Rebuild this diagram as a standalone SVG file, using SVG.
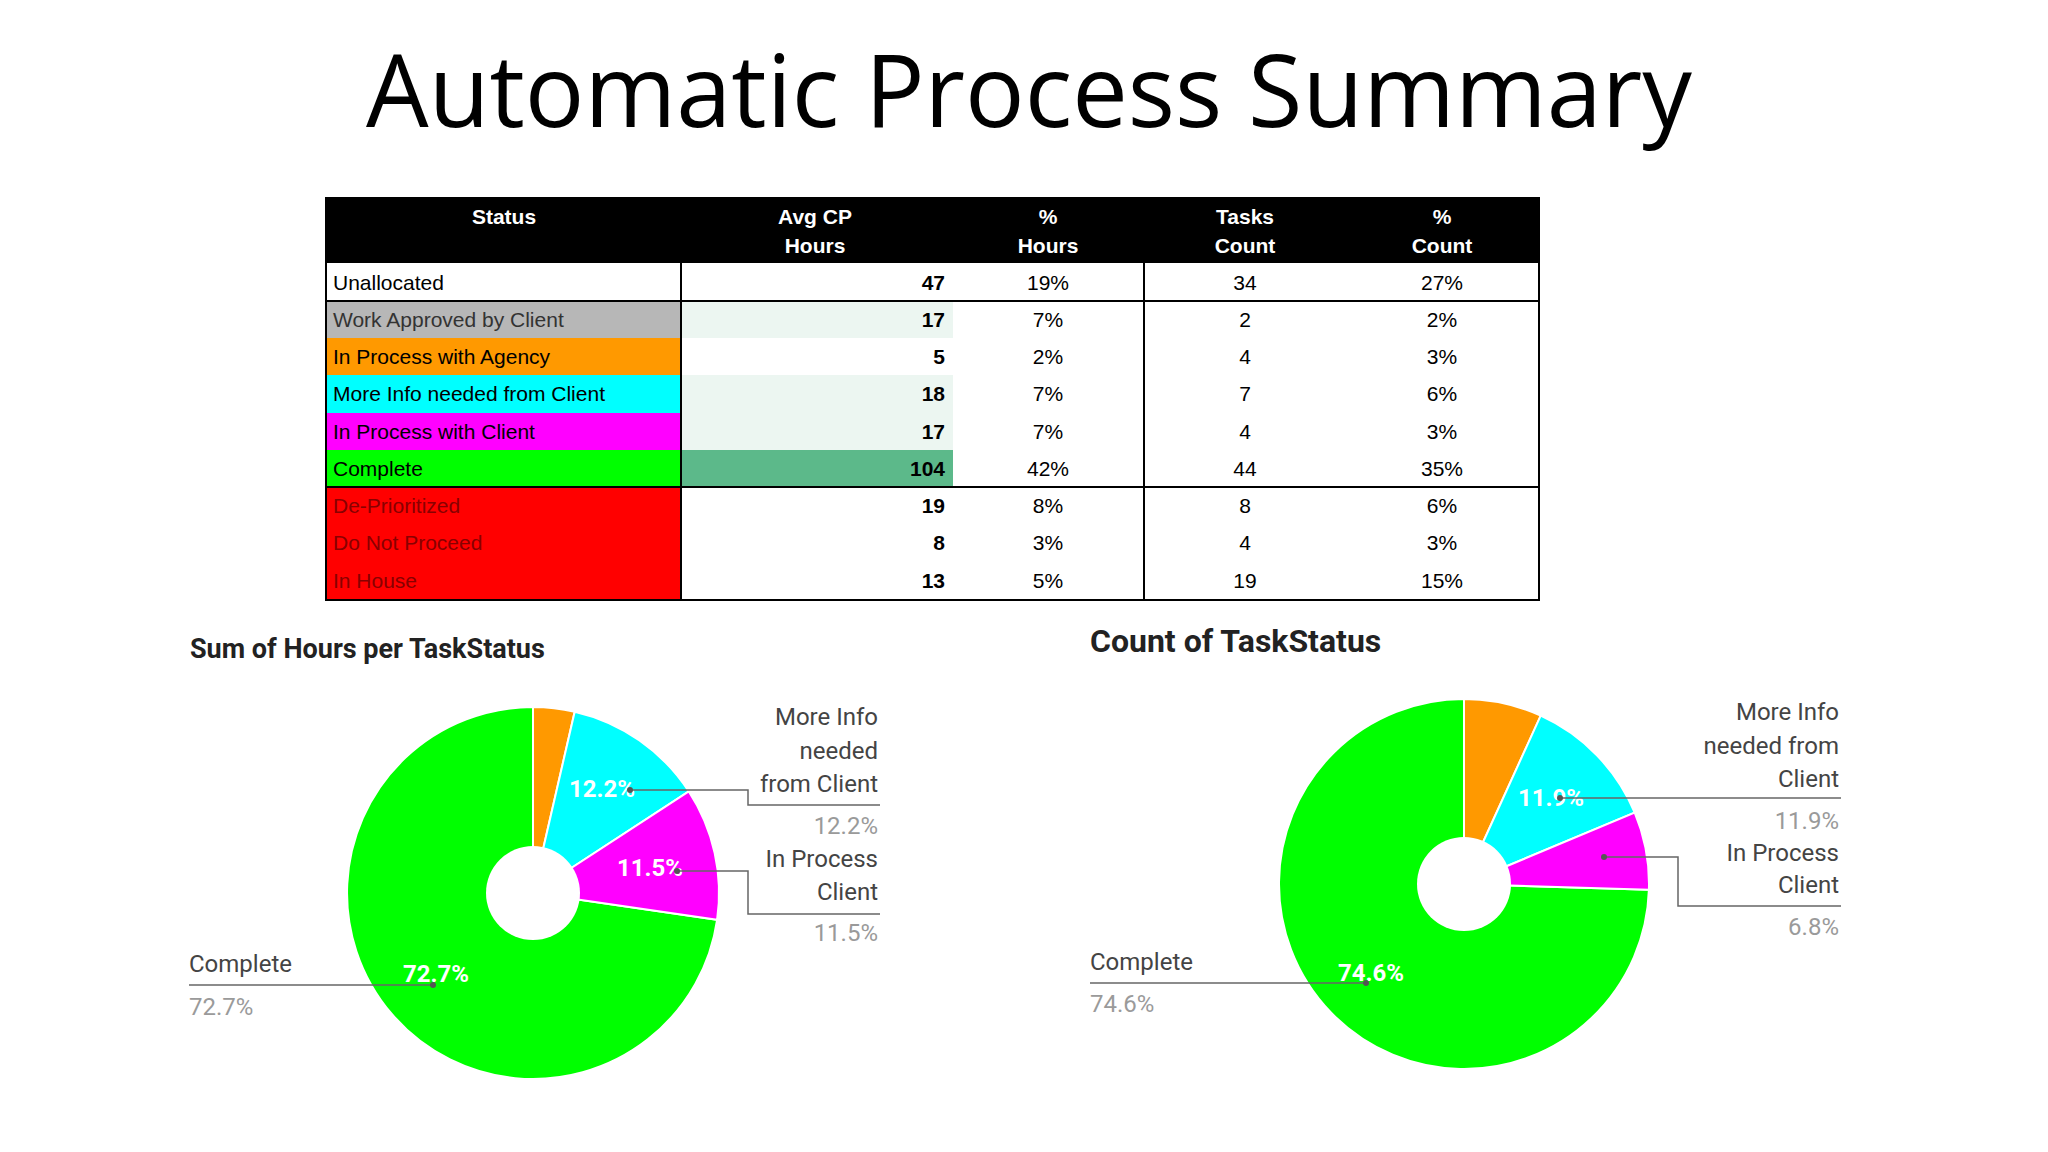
<svg xmlns="http://www.w3.org/2000/svg" width="2048" height="1152" viewBox="0 0 2048 1152">
<style>
.t{font-family:"Liberation Sans",Arial,sans-serif;font-size:21px;fill:#000}
.h{font-family:"Liberation Sans",Arial,sans-serif;font-size:21px;font-weight:bold;fill:#fff;text-anchor:middle}
.r{text-anchor:end}.c{text-anchor:middle}
.lb{font-family:Roboto,"Liberation Sans",sans-serif;font-size:24px;fill:#444}
.pc{font-family:Roboto,"Liberation Sans",sans-serif;font-size:24px;fill:#9a9a9a}
.in{font-family:Roboto,"Liberation Sans",sans-serif;font-size:24px;font-weight:bold;fill:#fff}
.ct{font-family:Roboto,"Liberation Sans",sans-serif;font-weight:bold;fill:#222}
.ld{fill:none;stroke:#666;stroke-width:1.5}
.sl{stroke:#fff;stroke-width:2}
</style>
<rect width="2048" height="1152" fill="#fff"/>
<text x="1029" y="127" font-family="Open Sans,Liberation Sans,sans-serif" font-size="100" text-anchor="middle" fill="#000" textLength="1326" lengthAdjust="spacingAndGlyphs">Automatic Process Summary</text>

<g id="table">
<rect x="326" y="198" width="1213" height="65" fill="#000"/>
<text class="h" x="504" y="224">Status</text>
<text class="h" x="815" y="224">Avg CP</text><text class="h" x="815" y="253">Hours</text>
<text class="h" x="1048" y="224">%</text><text class="h" x="1048" y="253">Hours</text>
<text class="h" x="1245" y="224">Tasks</text><text class="h" x="1245" y="253">Count</text>
<text class="h" x="1442" y="224">%</text><text class="h" x="1442" y="253">Count</text>
<rect x="326" y="301" width="355" height="37" fill="#b7b7b7"/>
<rect x="326" y="338" width="355" height="37" fill="#ff9900"/>
<rect x="326" y="375" width="355" height="38" fill="#00ffff"/>
<rect x="326" y="413" width="355" height="37" fill="#ff00ff"/>
<rect x="326" y="450" width="355" height="37" fill="#00ff00"/>
<rect x="326" y="487" width="355" height="113" fill="#ff0000"/>
<rect x="681" y="301" width="272" height="37" fill="#ecf6f1"/>
<rect x="681" y="375" width="272" height="75" fill="#ecf6f1"/>
<rect x="681" y="450" width="272" height="37" fill="#5cb98a"/>
<g fill="none" stroke="#000" stroke-width="2">
<rect x="326" y="198" width="1213" height="402"/>
<line x1="326" y1="301" x2="1539" y2="301"/>
<line x1="326" y1="487" x2="1539" y2="487"/>
<line x1="681" y1="263" x2="681" y2="600"/>
<line x1="1144" y1="263" x2="1144" y2="600"/>
</g>
<g class="t">
<text x="333" y="290">Unallocated</text>
<text x="333" y="327" fill="#333">Work Approved by Client</text>
<text x="333" y="364">In Process  with Agency</text>
<text x="333" y="401">More Info needed from Client</text>
<text x="333" y="439">In Process  with Client</text>
<text x="333" y="476">Complete</text>
<text x="333" y="513" fill="#800">De-Prioritized</text>
<text x="333" y="550" fill="#800">Do Not Proceed</text>
<text x="333" y="588" fill="#800">In House</text>
</g>
<g class="t r" font-weight="bold">
<text class="t r" x="945" y="290" font-weight="bold">47</text>
<text class="t r" x="945" y="327">17</text>
<text class="t r" x="945" y="364">5</text>
<text class="t r" x="945" y="401" font-weight="bold">18</text>
<text class="t r" x="945" y="439">17</text>
<text class="t r" x="945" y="476">104</text>
<text class="t r" x="945" y="513">19</text>
<text class="t r" x="945" y="550">8</text>
<text class="t r" x="945" y="588">13</text>
</g>
<g>
<text class="t c" x="1048" y="290">19%</text><text class="t c" x="1245" y="290">34</text><text class="t c" x="1442" y="290">27%</text>
<text class="t c" x="1048" y="327">7%</text><text class="t c" x="1245" y="327">2</text><text class="t c" x="1442" y="327">2%</text>
<text class="t c" x="1048" y="364">2%</text><text class="t c" x="1245" y="364">4</text><text class="t c" x="1442" y="364">3%</text>
<text class="t c" x="1048" y="401">7%</text><text class="t c" x="1245" y="401">7</text><text class="t c" x="1442" y="401">6%</text>
<text class="t c" x="1048" y="439">7%</text><text class="t c" x="1245" y="439">4</text><text class="t c" x="1442" y="439">3%</text>
<text class="t c" x="1048" y="476">42%</text><text class="t c" x="1245" y="476">44</text><text class="t c" x="1442" y="476">35%</text>
<text class="t c" x="1048" y="513">8%</text><text class="t c" x="1245" y="513">8</text><text class="t c" x="1442" y="513">6%</text>
<text class="t c" x="1048" y="550">3%</text><text class="t c" x="1245" y="550">4</text><text class="t c" x="1442" y="550">3%</text>
<text class="t c" x="1048" y="588">5%</text><text class="t c" x="1245" y="588">19</text><text class="t c" x="1442" y="588">15%</text>
</g>
</g>

<g id="chart-hours">
<text class="ct" x="190" y="658" font-size="27">Sum of Hours per TaskStatus</text>
<path class="sl" fill="#00ff00" d="M533 893 L717.1 919.8 A186 186 0 1 1 533 707 Z"/>
<path class="sl" fill="#ff9900" d="M533 893 L533 707 A186 186 0 0 1 574.7 711.7 Z"/>
<path class="sl" fill="#00ffff" d="M533 893 L574.7 711.7 A186 186 0 0 1 688.8 791.4 Z"/>
<path class="sl" fill="#ff00ff" d="M533 893 L688.8 791.4 A186 186 0 0 1 717.1 919.8 Z"/>
<circle cx="533" cy="893" r="47" fill="#fff"/>
<text class="in" x="569" y="797">12.2%</text>
<text class="in" x="617" y="876">11.5%</text>
<text class="in" x="403" y="982">72.7%</text>
</g>

<g id="chart-count">
<text class="ct" x="1090" y="652" font-size="32">Count of TaskStatus</text>
<path class="sl" fill="#00ff00" d="M1464 884 L1648.9 889.8 A185 185 0 1 1 1464 699 Z"/>
<path class="sl" fill="#ff9900" d="M1464 884 L1464 699 A185 185 0 0 1 1540.7 715.7 Z"/>
<path class="sl" fill="#00ffff" d="M1464 884 L1540.7 715.7 A185 185 0 0 1 1634.7 812.6 Z"/>
<path class="sl" fill="#ff00ff" d="M1464 884 L1634.7 812.6 A185 185 0 0 1 1648.9 889.8 Z"/>
<circle cx="1464" cy="884" r="47" fill="#fff"/>
<text class="in" x="1518" y="806">11.9%</text>
<text class="in" x="1338" y="981">74.6%</text>
</g>

<g id="connectors">
<polyline class="ld" points="630,790 748,790 748,805 880,805"/>
<polyline class="ld" points="677,871 748,871 748,914 880,914"/>
<polyline class="ld" points="189,985 433,985"/>
<polyline class="ld" points="1560,798 1841,798"/>
<polyline class="ld" points="1604,857 1678,857 1678,906 1841,906"/>
<polyline class="ld" points="1090,983 1366,983"/>
<g fill="#555"><circle cx="630" cy="790" r="3"/><circle cx="677" cy="871" r="3"/><circle cx="433" cy="985" r="3"/><circle cx="1560" cy="798" r="3"/><circle cx="1604" cy="857" r="3"/><circle cx="1366" cy="983" r="3"/></g>
</g>

<g id="labels">
<text class="lb" x="878" y="725" text-anchor="end">More Info</text>
<text class="lb" x="878" y="759" text-anchor="end">needed</text>
<text class="lb" x="878" y="792" text-anchor="end">from Client</text>
<text class="pc" x="878" y="834" text-anchor="end">12.2%</text>
<text class="lb" x="878" y="867" text-anchor="end">In Process</text>
<text class="lb" x="878" y="900" text-anchor="end">Client</text>
<text class="pc" x="878" y="941" text-anchor="end">11.5%</text>
<text class="lb" x="189" y="972">Complete</text>
<text class="pc" x="189" y="1015">72.7%</text>
<text class="lb" x="1839" y="720" text-anchor="end">More Info</text>
<text class="lb" x="1839" y="754" text-anchor="end">needed from</text>
<text class="lb" x="1839" y="787" text-anchor="end">Client</text>
<text class="pc" x="1839" y="829" text-anchor="end">11.9%</text>
<text class="lb" x="1839" y="861" text-anchor="end">In Process</text>
<text class="lb" x="1839" y="893" text-anchor="end">Client</text>
<text class="pc" x="1839" y="935" text-anchor="end">6.8%</text>
<text class="lb" x="1090" y="970">Complete</text>
<text class="pc" x="1090" y="1012">74.6%</text>
</g>
</svg>
